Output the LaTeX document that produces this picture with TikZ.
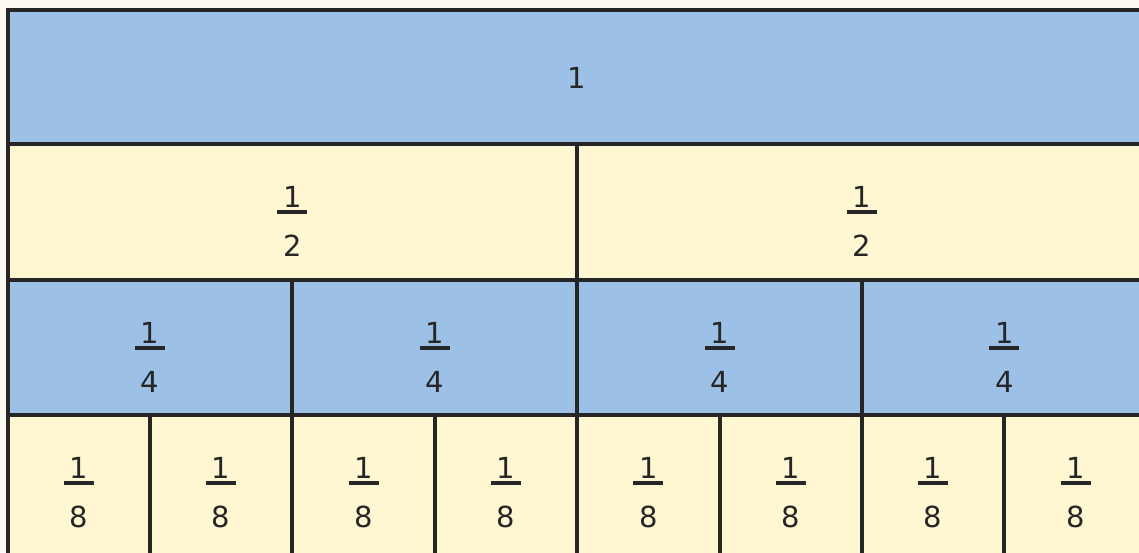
\documentclass[tikz,border=0pt]{standalone}
\usepackage{fontspec}
\setmainfont{DejaVu Sans}
\definecolor{bgc}{HTML}{FBF9F0}
\definecolor{bluec}{HTML}{9DC0E7}
\definecolor{yelc}{HTML}{FFF7D2}
\definecolor{linec}{HTML}{262626}
\tikzset{
  cellline/.style={draw=linec, line width=4pt},
  digit/.style={inner sep=0pt, anchor=base, text=linec, font=\fontsize{29}{29}\selectfont},
  fracbar/.style={draw=linec, line width=3.5pt},
}
\newcommand\frc[4]{%
  \node[digit] (#1n) at ({#2},{#3-5}) {1};
  \draw[fracbar] ({#2-15},{#3}) -- ({#2+15},{#3});
  \node[digit] (#1d) at ({#2},{#3+44}) {#4};
}
\begin{document}
\begin{tikzpicture}[x=1pt,y=-1pt]
\useasboundingbox (0,0) rectangle (1139,552);
\fill[bgc] (0,0) rectangle (1139,552);
\begin{scope}
\clip (0,0) rectangle (1139,552);
% row 1
\filldraw[fill=bluec, cellline] (7.5,10) rectangle (1146,144);
% row 2
\foreach \i in {0,1}{
  \filldraw[fill=yelc, cellline] ({7.5+\i*569.6},144) rectangle ({7.5+(\i+1)*569.6},280);
}
% row 3
\foreach \i in {0,...,3}{
  \filldraw[fill=bluec, cellline] ({7.5+\i*284.8},280) rectangle ({7.5+(\i+1)*284.8},415);
}
% row 4
\foreach \i in {0,...,7}{
  \filldraw[fill=yelc, cellline] ({7.5+\i*142.4},415) rectangle ({7.5+(\i+1)*142.4},557);
}
\end{scope}
\node[digit, anchor=center] (one) at (577,78) {1};
\frc{h1}{292.3}{212}{2}
\frc{h2}{861.9}{212}{2}
\frc{q1}{149.9}{348}{4}
\frc{q2}{434.7}{348}{4}
\frc{q3}{719.5}{348}{4}
\frc{q4}{1004.3}{348}{4}
\frc{e1}{78.7}{483}{8}
\frc{e2}{221.1}{483}{8}
\frc{e3}{363.5}{483}{8}
\frc{e4}{505.9}{483}{8}
\frc{e5}{648.3}{483}{8}
\frc{e6}{790.7}{483}{8}
\frc{e7}{933.1}{483}{8}
\frc{e8}{1075.5}{483}{8}
\end{tikzpicture}
\end{document}
